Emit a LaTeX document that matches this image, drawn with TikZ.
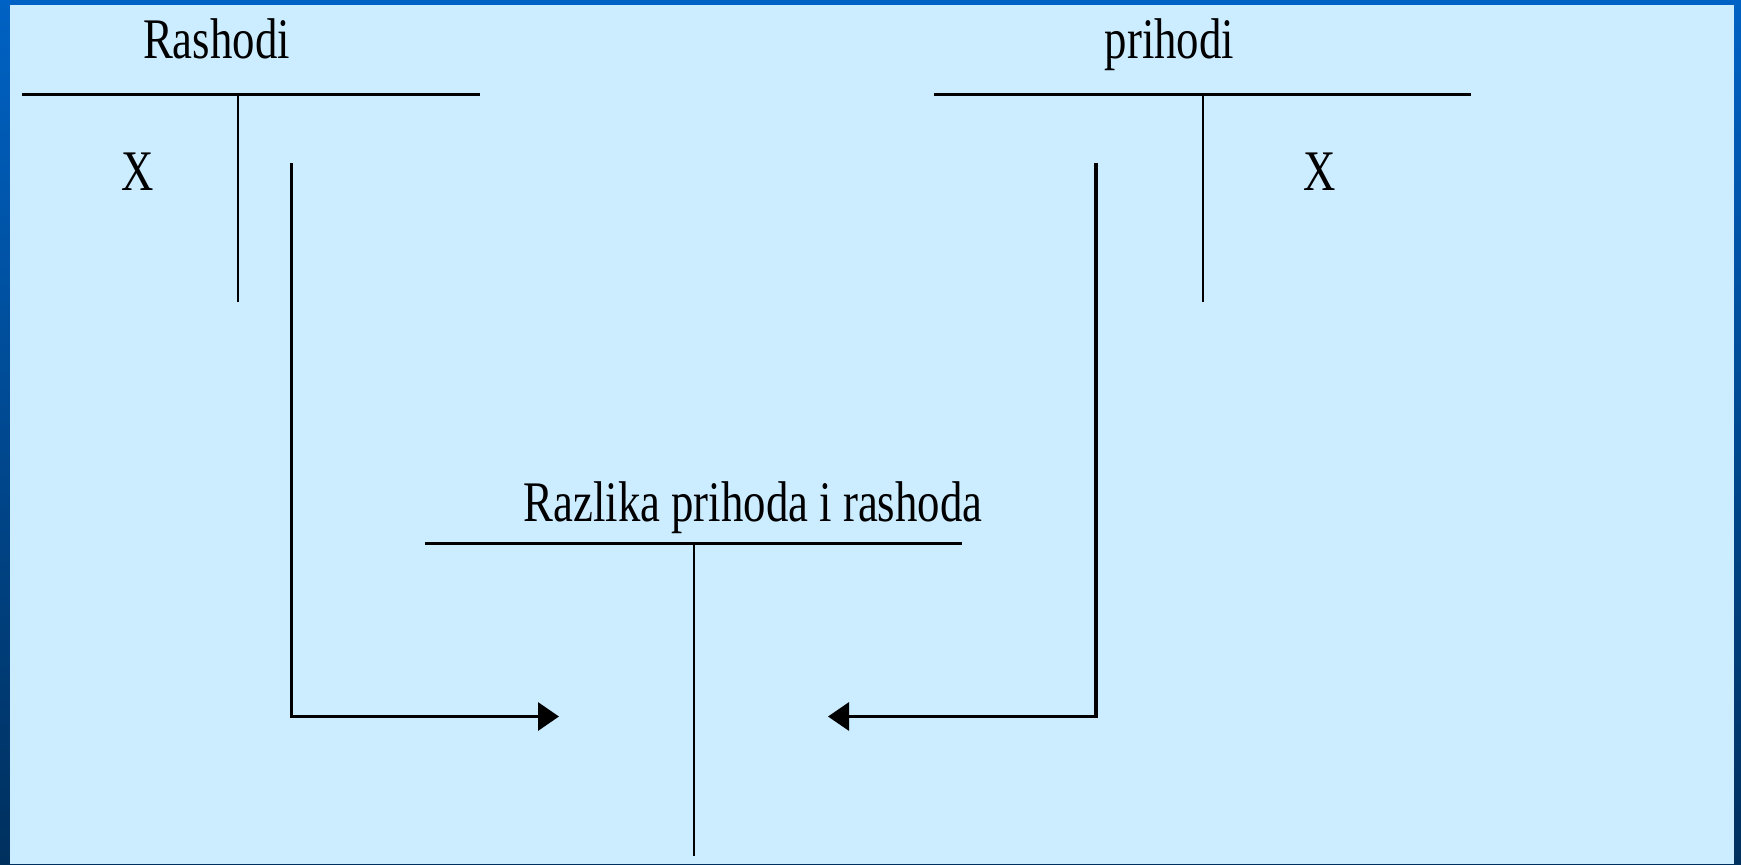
\documentclass[tikz,border=0pt]{standalone}
\usepackage{fontspec}
\newfontfamily\narrowserif[FakeStretch=0.78]{Liberation Serif}
\usetikzlibrary{arrows.meta}
\definecolor{panel}{HTML}{CCECFF}
\definecolor{frametop}{HTML}{0062C4}
\definecolor{framebot}{HTML}{00305E}
\tikzset{
  lbl/.style={font=\narrowserif\fontsize{28.7pt}{34pt}\selectfont, inner sep=0pt, anchor=base},
  tbar/.style={line width=1.5pt},
  tstem/.style={line width=1pt},
  flow/.style={line width=1.6pt, -{Triangle[length=10.5pt,width=14pt]}}
}
\begin{document}
\begin{tikzpicture}[x=0.5pt,y=-0.5pt]
  % background frame and panel
  \shade[top color=frametop, bottom color=framebot] (0,0) rectangle (1741,864);
  \fill[panel] (10,5) rectangle (1734,864);
  \useasboundingbox (0,0) rectangle (1741,864);

  % left T-account: Rashodi
  \node[lbl] (rashodi) at (216.5,58) {Rashodi};
  \coordinate (rL) at (22,94.5);
  \coordinate (rR) at (480,94.5);
  \coordinate (rTop) at (237.6,94.5);
  \coordinate (rBot) at (237.6,302);
  \draw[tbar] (rL) -- (rR);
  \draw[tstem] (rTop) -- (rBot);
  \node[lbl] (xl) at (137.7,190) {X};

  % right T-account: prihodi
  \node[lbl] (prihodi) at (1169.5,58) {prihodi};
  \coordinate (pL) at (934,94.5);
  \coordinate (pR) at (1471,94.5);
  \coordinate (pTop) at (1202.5,94.5);
  \coordinate (pBot) at (1202.5,302);
  \draw[tbar] (pL) -- (pR);
  \draw[tstem] (pTop) -- (pBot);
  \node[lbl] (xr) at (1320,190) {X};

  % middle T-account
  \node[lbl] (razlika) at (753,521.5) {Razlika prihoda i rashoda};
  \coordinate (mL) at (425,543.5);
  \coordinate (mR) at (962,543.5);
  \coordinate (mTop) at (694,543.5);
  \coordinate (mBot) at (694,856);
  \draw[tbar] (mL) -- (mR);
  \draw[tstem] (mTop) -- (mBot);

  % transfer arrows
  \coordinate (aStart) at (291.5,163);
  \coordinate (aEnd) at (559,716.5);
  \coordinate (bStart) at (1096,163);
  \coordinate (bEnd) at (828,716.5);
  \draw[flow] (aStart) |- (aEnd);
  \draw[flow] (bStart) |- (bEnd);
\end{tikzpicture}
\end{document}
